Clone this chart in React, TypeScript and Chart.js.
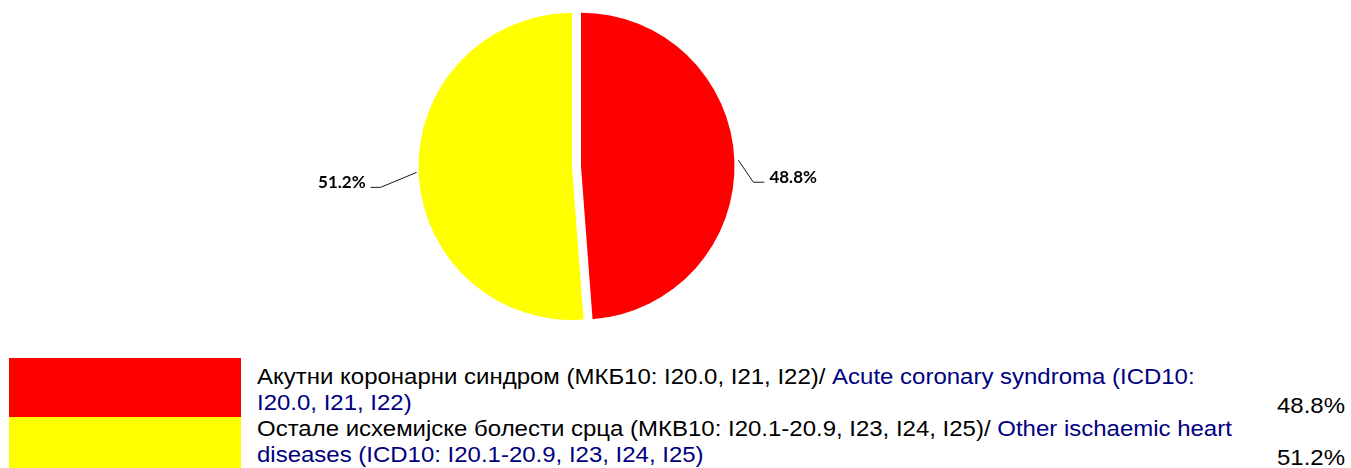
import React, { useEffect, useRef } from 'react';
import { Chart, registerables } from 'chart.js';

Chart.register(...registerables);

// ---- data ----
const categoriesSr = [
  'Акутни коронарни синдром (МКБ10: I20.0, I21, I22)/ ',
  'Остале исхемијске болести срца (МКВ10: I20.1-20.9, I23, I24, I25)/ ',
];
const categoriesEn = [
  'Acute coronary syndroma (ICD10: I20.0, I21, I22)',
  'Other ischaemic heart diseases (ICD10: I20.1-20.9, I23, I24, I25)',
];
const shares = [48.8, 51.2];
const sliceColors = ['#FF0000', '#FFFF00'];
const sliceExplode = [9, 0];

const fmt = (v: number) => v.toFixed(1) + '%';

// leader-line layout per slice (style only)
const leaderLayout = [
  { gap: 4, elbow: [15, 22], arm: 11 },
  { gap: 2, elbow: [-36, 15], arm: -10 },
];

const explodePlugin = {
  id: 'explodeSlices',
  afterDatasetsUpdate(chart: any) {
    const meta = chart.getDatasetMeta(0);
    meta.data.forEach((arc: any, i: number) => {
      const d = sliceExplode[i] || 0;
      if (!d) return;
      const mid = (arc.startAngle + arc.endAngle) / 2;
      arc.x += Math.cos(mid) * d;
      arc.y += Math.sin(mid) * d;
    });
  },
};

const pieLabels = {
  id: 'pieLabels',
  afterDatasetsDraw(chart: any) {
    const ctx = chart.ctx;
    const meta = chart.getDatasetMeta(0);
    meta.data.forEach((arc: any, i: number) => {
      const mid = (arc.startAngle + arc.endAngle) / 2;
      const L = leaderLayout[i];
      const sx = arc.x + Math.cos(mid) * (arc.outerRadius + L.gap);
      const sy = arc.y + Math.sin(mid) * (arc.outerRadius + L.gap);
      const ex = sx + L.elbow[0];
      const ey = sy + L.elbow[1];
      const hx = ex + L.arm;
      ctx.save();
      ctx.strokeStyle = '#1a1a1a';
      ctx.lineWidth = 1;
      ctx.beginPath();
      ctx.moveTo(sx, sy);
      ctx.lineTo(ex, ey);
      ctx.lineTo(hx, ey);
      ctx.stroke();
      ctx.fillStyle = '#000';
      ctx.font = 'bold 17px Lato, "Open Sans", sans-serif';
      ctx.textBaseline = 'middle';
      const right = L.arm < 0;
      ctx.textAlign = right ? 'right' : 'left';
      ctx.fillText(fmt(shares[i]), hx + (right ? -5 : 5), ey - 4.5);
      ctx.restore();
    });
  },
};

const textFont = '"Liberation Sans", Arial, sans-serif';

export default function App() {
  const ref = useRef<HTMLCanvasElement | null>(null);

  useEffect(() => {
    if (!ref.current) return;
    const chart = new Chart(ref.current, {
      type: 'pie',
      data: {
        labels: categoriesEn,
        datasets: [
          {
            data: shares,
            backgroundColor: sliceColors,
            borderWidth: 0,
          },
        ],
      },
      options: {
        responsive: false,
        animation: false,
        layout: { padding: { left: 0, right: 207, top: 13, bottom: 20 } },
        plugins: {
          legend: { display: false },
          tooltip: { enabled: false },
        },
      },
      plugins: [explodePlugin, pieLabels],
    });
    return () => chart.destroy();
  }, []);

  return (
    <div
      style={{
        position: 'fixed',
        left: 0,
        top: 0,
        width: 1351,
        height: 468,
        overflow: 'hidden',
        background: '#fff',
      }}
    >
      <canvas
        ref={ref}
        width={1351}
        height={340}
        style={{ position: 'absolute', left: 0, top: 0, width: 1351, height: 340 }}
      />
      {/* colour boxes */}
      <div style={{ position: 'absolute', left: 9, top: 358, width: 232 }}>
        {sliceColors.map((c, i) => (
          <div key={i} style={{ height: 58.7, background: c }} />
        ))}
      </div>
      {/* label text + percentages */}
      <div
        style={{
          position: 'absolute',
          left: 257,
          top: 363.7,
          width: 1088 / 1.09,
          transform: 'scaleX(1.09)',
          transformOrigin: 'left top',
          display: 'grid',
          gridTemplateColumns: '910px 1fr',
          fontFamily: textFont,
          fontSize: 22,
          lineHeight: '26px',
          color: '#000',
        }}
      >
        {shares.map((v, i) => (
          <React.Fragment key={i}>
            <div>
              {categoriesSr[i]}
              <span style={{ color: '#000080' }}>{categoriesEn[i]}</span>
            </div>
            <div style={{ alignSelf: 'end', textAlign: 'right', position: 'relative', top: 3 }}>{fmt(v)}</div>
          </React.Fragment>
        ))}
      </div>
    </div>
  );
}
